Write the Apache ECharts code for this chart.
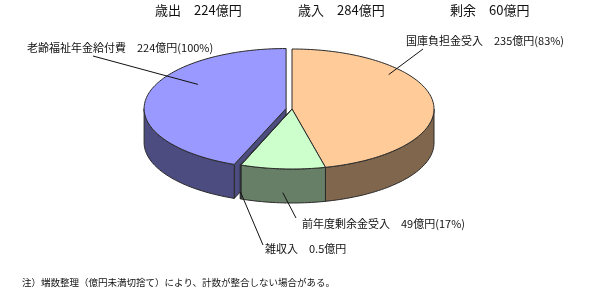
<!DOCTYPE html>
<html><head><meta charset="utf-8">
<script src="https://cdn.jsdelivr.net/npm/echarts@6/dist/echarts.min.js"></script>
<style>html,body{margin:0;padding:0;background:#fff}#c{width:600px;height:295px}</style>
</head><body><div id="c"></div>
<script>
// ---- data ----
const categories = ['国庫負担金受入', '前年度剰余金受入', '雑収入', '老齢福祉年金給付費'];
const values = [235, 49, 0.5, 224];
const labelTexts = ['国庫負担金受入　235億円(83%)', '前年度剰余金受入　49億円(17%)', '雑収入　0.5億円', '老齢福祉年金給付費　224億円(100%)'];
const titleTexts = ['歳出　224億円', '歳入　284億円', '剰余　60億円'];
const noteText = '注）端数整理（億円未満切捨て）により、計数が整合しない場合がある。';

// ---- style / layout ----
const topColors = ['#FFCC99', '#CCFFCC', '#CCCCFF', '#9999FF'];
const sideColors = ['#7F664C', '#667F66', '#4C4C80', '#4C4C80'];
const explode = [0, 0, 0, 6];
const drawOrder = [3, 0, 1, 2];
const geo = { cx: 292, cy: 109, rx: 142, ry: 60, depth: 34 };
const labelLayout = [
  { t: 0.30, r: 0.89, z: 0, end: [423, 49], tx: 406, ty: 41 },
  { t: 0.5, r: 1, z: 0.7, end: [296, 218], tx: 302, ty: 224 },
  { t: 0.5, r: 1, z: 0.8, end: [263, 245], tx: 265, ty: 249 },
  { t: 0.64, r: 0.74, z: 0, end: [93, 56], tx: 27, ty: 48 }
];
const FONT = '"Noto Sans CJK JP", "Noto Sans", sans-serif';
const EDGE = '#2a2a2a';

const total = values.reduce((a, b) => a + b, 0);
let cum = 0;
const cumData = values.map((v, i) => { const d = [cum, cum + v, i]; cum += v; return d; });
const pieData = drawOrder.map(i => cumData[i]);
const n = values.length;

function renderItem(params, api) {
  const i = api.value(2);
  const a0 = api.value(0) / total * Math.PI * 2;
  const a1 = api.value(1) / total * Math.PI * 2;
  const mid = (a0 + a1) / 2;
  const ox = explode[i] * Math.sin(mid);
  const oy = -explode[i] * Math.cos(mid) * geo.ry / geo.rx;
  const P = (a, r, z) => [geo.cx + ox + geo.rx * r * Math.sin(a), geo.cy + oy - geo.ry * r * Math.cos(a) + z];
  const arc = (s, e, r, z) => {
    const m = Math.max(2, Math.ceil(Math.abs(e - s) / (Math.PI / 120)));
    const pts = [];
    for (let k = 0; k <= m; k++) pts.push(P(s + (e - s) * k / m, r, z));
    return pts;
  };
  const children = [];
  const D = geo.depth;
  const wall = (a) => ({
    type: 'polygon',
    shape: { points: [P(0, 0, 0), P(a, 1, 0), P(a, 1, D), P(0, 0, D)] },
    style: { fill: sideColors[i], stroke: EDGE, lineWidth: 1 }
  });
  const prev = (i - 1 + n) % n, next = (i + 1) % n;
  if (Math.sin(a0) < -1e-6 && (explode[i] > 0 || explode[prev] > 0)) children.push(wall(a0));
  if (Math.sin(a1) > 1e-6 && (explode[i] > 0 || explode[next] > 0)) children.push(wall(a1));
  const s = Math.max(a0, Math.PI / 2), e = Math.min(a1, Math.PI * 1.5);
  if (e > s) {
    children.push({
      type: 'polygon',
      shape: { points: arc(s, e, 1, 0).concat(arc(e, s, 1, D)) },
      style: { fill: sideColors[i], stroke: EDGE, lineWidth: 1 }
    });
  }
  children.push({
    type: 'polygon',
    shape: { points: [P(0, 0, 0)].concat(arc(a0, a1, 1, 0)) },
    style: { fill: topColors[i], stroke: EDGE, lineWidth: 1 }
  });
  const L = labelLayout[i];
  const aL = a0 + (a1 - a0) * L.t;
  const st = P(aL, L.r, L.z * D);
  children.push({
    type: 'line', z2: 200,
    shape: { x1: st[0], y1: st[1], x2: L.end[0], y2: L.end[1] },
    style: { stroke: '#111', lineWidth: 1 }
  });
  children.push({
    type: 'text', z2: 200,
    style: { text: labelTexts[i], x: L.tx, y: L.ty, fill: '#111', font: '11px ' + FONT, align: 'left', verticalAlign: 'middle' }
  });
  return { type: 'group', children };
}

const chart = echarts.init(document.getElementById('c'), null, { renderer: 'canvas' });
const titleX = [155, 298, 450];
chart.setOption({
  backgroundColor: '#fff',
  animation: false,
  graphic: titleTexts.map((t, k) => ({
    type: 'text', left: titleX[k], top: 4,
    style: { text: t, fill: '#111', font: '13px ' + FONT }
  })).concat([{
    type: 'text', left: 22, top: 278,
    style: { text: noteText, fill: '#111', font: '9.5px ' + FONT }
  }]),
  series: [{
    type: 'custom',
    coordinateSystem: 'none',
    renderItem: renderItem,
    data: pieData,
    silent: true
  }]
});
</script>
</body></html>
